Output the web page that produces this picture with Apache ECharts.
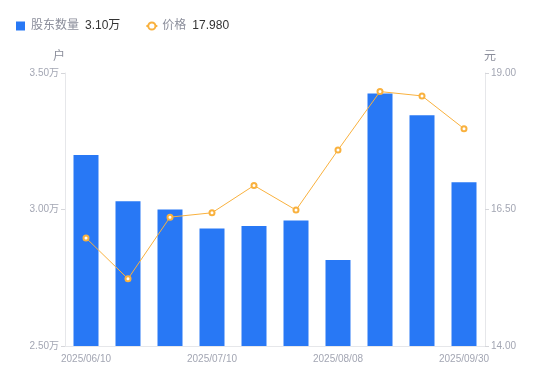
<!DOCTYPE html>
<html>
<head>
<meta charset="utf-8">
<script src="https://cdn.jsdelivr.net/npm/echarts@6/dist/echarts.min.js"></script>
<style>html,body{margin:0;padding:0;background:#fff}#c{width:550px;height:381px}</style>
</head>
<body>
<div id="c"></div>
<script>
const categories = ['2025/06/10','2025/06/20','2025/06/30','2025/07/10','2025/07/20','2025/07/31','2025/08/08','2025/08/20','2025/08/31','2025/09/30'];
const holders = [32000, 30300, 30000, 29300, 29400, 29600, 28150, 34250, 33450, 31000];
const prices = [15.98, 15.23, 16.36, 16.44, 16.94, 16.49, 17.59, 18.66, 18.58, 17.98];
const leftTicks = [25000, 30000, 35000];
const rightTicks = [14.00, 16.50, 19.00];
const seriesNames = ['股东数量', '价格'];

const fontFam = '"Liberation Sans", Arial, "Noto Sans CJK SC", sans-serif';
const labelColor = '#a3a6b3';
const lineColor = '#e6e7ea';
const blue = '#2878f5';
const orange = '#f9b13e';

const chart = echarts.init(document.getElementById('c'), null, {renderer: 'canvas'});
const lastHolder = holders[holders.length - 1];
const lastPrice = prices[prices.length - 1];

chart.setOption({
  animation: false,
  textStyle: {fontFamily: fontFam},
  legend: {
    left: 11, top: 15,
    itemGap: 25,
    itemWidth: 11, itemHeight: 9,
    data: [
      {name: seriesNames[0], icon: 'path://M0,0 L10,0 L10,10 L0,10 Z'},
      {name: seriesNames[1]}
    ],
    formatter: function (name) {
      const v = name === seriesNames[0] ? (lastHolder / 10000).toFixed(2) + '万' : lastPrice.toFixed(3);
      return '{n|' + name + '}{v|' + v + '}';
    },
    textStyle: {
      rich: {
        n: {fontSize: 12, color: '#8b8e9b', fontFamily: fontFam, padding: [0, 6, 0, 0]},
        v: {fontSize: 12, color: '#333333', fontFamily: fontFam}
      }
    }
  },
  grid: {left: 65, right: 65, top: 73, bottom: 35, containLabel: false},
  xAxis: {
    type: 'category',
    data: categories,
    boundaryGap: true,
    axisLine: {lineStyle: {color: lineColor}},
    axisTick: {show: false},
    axisLabel: {
      interval: 2,
      color: labelColor,
      fontSize: 10,
      margin: 8,
      fontFamily: fontFam
    }
  },
  yAxis: [
    {
      type: 'value',
      name: '户',
      nameGap: 10,
      nameTextStyle: {color: '#8b8e9b', fontSize: 12, padding: [0, 12, 0, 0]},
      min: leftTicks[0], max: leftTicks[leftTicks.length - 1], interval: 5000,
      axisLine: {show: true, lineStyle: {color: lineColor}},
      axisTick: {show: true, length: 4, lineStyle: {color: '#d5d6da'}},
      splitLine: {show: false},
      axisLabel: {
        color: labelColor, fontSize: 10, margin: 6,
        formatter: function (v) { return (v / 10000).toFixed(2) + '万'; }
      }
    },
    {
      type: 'value',
      name: '元',
      nameGap: 10,
      nameTextStyle: {color: '#8b8e9b', fontSize: 12, padding: [0, 0, 0, 10]},
      min: rightTicks[0], max: rightTicks[rightTicks.length - 1], interval: 2.5,
      axisLine: {show: true, lineStyle: {color: lineColor}},
      axisTick: {show: true, length: 4, lineStyle: {color: '#d5d6da'}},
      splitLine: {show: false},
      axisLabel: {
        color: labelColor, fontSize: 10, margin: 6,
        formatter: function (v) { return v.toFixed(2); }
      }
    }
  ],
  series: [
    {
      name: seriesNames[0],
      type: 'bar',
      yAxisIndex: 0,
      data: holders,
      barWidth: 25,
      itemStyle: {color: blue}
    },
    {
      name: seriesNames[1],
      type: 'line',
      yAxisIndex: 1,
      data: prices,
      symbol: 'emptyCircle',
      symbolSize: 5,
      lineStyle: {color: orange, width: 1},
      itemStyle: {color: orange, borderWidth: 2}
    }
  ]
});
</script>
</body>
</html>
